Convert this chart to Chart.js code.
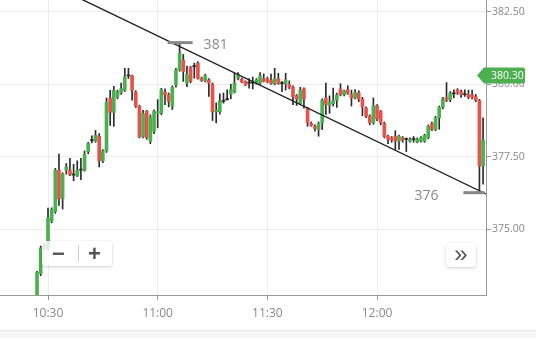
<!DOCTYPE html>
<html>
<head>
<meta charset="utf-8">
<script src="https://cdn.jsdelivr.net/npm/chart.js@4.4.1/dist/chart.umd.min.js"></script>
<style>
  html, body { margin: 0; padding: 0; background: #fff; }
  #wrap { position: relative; width: 536px; height: 338px; overflow: hidden; font-family: 'Open Sans', sans-serif; }
  #myChart { position: absolute; left: 0; top: 0; }
  .footer { position: absolute; left: 0; top: 330px; width: 536px; height: 8px; background: #f6f6f6; border-top: 1px solid #ebebeb; }
  .zoomBox { position: absolute; left: 42px; top: 241px; width: 70px; height: 25px; background: rgba(255,255,255,0.82); border-radius: 3px; box-shadow: 0 1px 3px rgba(0,0,0,0.2); }
  .zoomBox span { position: absolute; top: 0px; font: bold 22px 'Liberation Sans', sans-serif; color: #555; }
  .zoomBox .sep { position: absolute; left: 36px; top: 4px; width: 1px; height: 17px; background: #d0d0d0; }
  .moreBtn { position: absolute; left: 446px; top: 243px; width: 30px; height: 24px; background: #fff; border-radius: 3px; box-shadow: 0 1px 3px rgba(0,0,0,0.2); text-align: center; font: 24px/22px 'Liberation Sans', sans-serif; color: #555; }
</style>
</head>
<body>
<div id="wrap">
  <canvas id="myChart" width="536" height="330"></canvas>
  <div class="footer"></div>
  <div class="zoomBox"><span style="left:10px">−</span><div class="sep"></div><span style="left:46px">+</span></div>
  <div class="moreBtn">»</div>
</div>
<script>
// one candle per minute, first one at 10:27
const startMinute = 627;
const opens = [372.60, 373.47, 374.33, 374.36, 375.28, 375.61, 377.04, 376.07, 377.04, 377.04,
  376.87, 376.84, 377.04, 377.04, 377.68, 378.06, 378.04, 378.21, 377.36, 377.70,
  379.53, 379.03, 379.56, 379.70, 379.79, 380.29, 380.29, 379.73, 379.24, 378.19,
  379.07, 378.04, 378.38, 379.00, 379.01, 379.73, 379.64, 379.24, 379.98, 380.50,
  380.84, 380.04, 380.58, 380.61, 380.73, 380.21, 380.12, 380.15, 380.00, 379.05,
  379.05, 379.41, 379.47, 379.66, 379.73, 380.21, 380.18, 380.10, 380.04, 380.04,
  380.04, 380.04, 380.19, 380.19, 380.15, 380.02, 380.19, 380.02, 380.02, 380.00,
  379.90, 379.61, 379.33, 379.84, 379.18, 378.65, 378.55, 378.44, 378.67, 379.53,
  379.27, 379.33, 379.45, 379.84, 379.64, 379.81, 379.66, 379.53, 379.70, 379.49,
  379.18, 378.90, 378.67, 379.26, 379.07, 378.65, 378.21, 378.15, 378.21, 378.04,
  378.15, 378.10, 378.04, 378.10, 378.02, 378.04, 378.04, 378.16, 378.64, 378.44,
  378.84, 379.21, 379.53, 379.47, 379.67, 379.81, 379.74, 379.64, 379.64, 379.64,
  379.58, 379.44, 377.18];
const highs = [373.55, 374.42, 374.50, 375.73, 375.74, 377.10, 377.59, 376.95, 377.27, 377.45,
  377.24, 377.36, 377.45, 377.70, 378.00, 378.22, 378.41, 378.30, 377.75, 379.53,
  379.79, 379.93, 379.80, 380.04, 380.55, 380.55, 380.32, 379.78, 379.28, 379.10,
  379.10, 378.95, 379.12, 379.47, 379.86, 379.84, 379.70, 379.95, 380.55, 381.42,
  381.03, 380.63, 380.62, 380.73, 380.78, 380.25, 380.35, 380.20, 380.05, 379.36,
  379.67, 379.70, 379.81, 380.00, 380.38, 380.40, 380.22, 380.12, 380.20, 380.25,
  380.20, 380.40, 380.36, 380.25, 380.35, 380.55, 380.38, 380.10, 380.38, 380.12,
  379.95, 379.65, 379.90, 379.88, 379.20, 378.70, 378.60, 378.70, 379.50, 380.04,
  379.60, 379.87, 379.70, 380.02, 379.80, 379.95, 379.80, 379.82, 379.78, 379.55,
  379.22, 378.95, 379.53, 379.30, 379.10, 378.70, 378.25, 378.20, 378.40, 378.25,
  378.20, 378.15, 378.15, 378.20, 378.15, 378.20, 378.28, 378.60, 378.70, 378.90,
  379.25, 379.55, 380.06, 379.75, 379.81, 379.85, 379.80, 379.81, 379.80, 379.80,
  379.65, 379.48, 378.84];
const lows = [372.50, 373.40, 374.28, 374.30, 375.22, 375.55, 375.82, 375.70, 376.90, 376.85,
  376.67, 376.82, 376.71, 377.00, 377.60, 377.98, 378.00, 377.15, 377.30, 377.65,
  378.58, 378.55, 379.50, 379.65, 379.75, 380.20, 379.45, 379.20, 378.15, 378.15,
  378.10, 377.95, 378.30, 378.50, 378.95, 379.30, 379.22, 379.13, 379.90, 380.45,
  380.10, 379.92, 380.05, 380.21, 380.18, 380.10, 380.08, 379.58, 378.75, 378.67,
  378.97, 379.35, 379.45, 379.50, 379.70, 380.15, 380.05, 379.95, 379.87, 379.84,
  380.00, 380.00, 380.08, 380.05, 380.00, 379.98, 380.00, 379.75, 379.80, 379.85,
  379.30, 379.27, 379.30, 379.18, 378.55, 378.55, 378.38, 378.21, 378.44, 378.96,
  379.00, 379.25, 379.20, 379.60, 379.60, 379.65, 379.25, 379.50, 379.40, 378.92,
  378.85, 378.60, 378.62, 378.75, 378.60, 378.15, 377.95, 378.00, 377.75, 377.75,
  378.00, 377.68, 378.00, 378.00, 377.98, 378.00, 378.00, 378.12, 378.40, 378.40,
  378.45, 379.15, 379.40, 379.40, 379.53, 379.65, 379.55, 379.58, 379.50, 379.50,
  379.40, 376.28, 376.56];
const closes = [373.51, 374.36, 374.40, 375.38, 375.68, 377.04, 376.05, 376.90, 377.15, 376.88,
  376.87, 377.04, 377.04, 377.59, 377.96, 378.06, 378.24, 377.36, 377.70, 379.38,
  379.03, 379.79, 379.72, 379.85, 380.25, 380.29, 379.79, 379.24, 378.19, 378.99,
  378.16, 378.88, 379.07, 379.05, 379.81, 379.64, 379.41, 379.90, 380.50, 381.07,
  380.44, 380.35, 380.10, 380.61, 380.21, 380.13, 380.30, 380.04, 379.05, 379.10,
  379.43, 379.41, 379.47, 379.81, 380.04, 380.33, 380.08, 379.98, 380.04, 380.04,
  380.15, 380.29, 380.10, 380.10, 380.02, 380.19, 380.02, 380.02, 380.15, 379.90,
  379.58, 379.49, 379.81, 379.49, 378.67, 378.58, 378.47, 378.65, 379.45, 379.30,
  379.38, 379.45, 379.64, 379.64, 379.77, 379.70, 379.53, 379.72, 379.49, 379.22,
  378.90, 378.67, 379.26, 378.81, 378.67, 378.19, 378.10, 378.08, 378.04, 378.21,
  378.08, 378.10, 378.10, 378.10, 378.10, 378.16, 378.24, 378.55, 378.44, 378.84,
  379.21, 379.50, 379.45, 379.70, 379.67, 379.72, 379.64, 379.64, 379.56, 379.56,
  379.45, 377.18, 378.08];

const xTicks = [630, 660, 690, 720];
const yTicks = [375, 377.5, 380, 382.5];
const lastPrice = 380.30;

// candles carrying the high / low markers
const highMarkIdx = 39;
const lowMarkIdx = 121;

// trend line drawn between two points (minute, price)
const trendX = [630, 749.8];
const trendY = [383.49, 376.22];

const green = '#4caf50';
const red = '#e5534b';
const wickColor = '#2b2b2b';

const times = opens.map((v, i) => startMinute + i);

function candleColor(i) {
    if (closes[i] > opens[i]) return green;
    if (closes[i] < opens[i]) return red;
    return wickColor;
}

function fmtTime(v) {
    const h = Math.floor(v / 60);
    const m = v % 60;
    return h + ':' + (m < 10 ? '0' : '') + m;
}

const markerPlugin = {
    id: 'markers',
    afterDatasetsDraw(chart) {
        const c = chart.ctx;
        const x = chart.scales.x;
        const y = chart.scales.y;
        const hiVal = highs[highMarkIdx];
        const loVal = lows[lowMarkIdx];
        const hiX = x.getPixelForValue(times[highMarkIdx]);
        const loX = x.getPixelForValue(times[lowMarkIdx]);
        const hiY = y.getPixelForValue(hiVal);
        const loY = y.getPixelForValue(loVal);
        c.save();
        c.fillStyle = '#888';
        c.fillRect(hiX - 12, hiY - 2, 25, 3);
        c.fillRect(loX - 16, loY - 1, 21, 3);
        c.font = '14px "Open Sans"';
        c.textBaseline = 'middle';
        c.textAlign = 'left';
        c.fillText(Math.round(hiVal), hiX + 24, hiY + 2);
        c.textAlign = 'right';
        c.fillText(Math.round(loVal), loX - 41, loY + 4);
        c.restore();
    },
    afterDraw(chart) {
        const c = chart.ctx;
        const py = chart.scales.y.getPixelForValue(lastPrice);
        const left = chart.chartArea.right - 9;
        c.save();
        c.fillStyle = green;
        c.beginPath();
        c.moveTo(left, py);
        c.lineTo(left + 7, py - 8);
        c.lineTo(523, py - 8);
        c.quadraticCurveTo(525, py - 8, 525, py - 6);
        c.lineTo(525, py + 6);
        c.quadraticCurveTo(525, py + 8, 523, py + 8);
        c.lineTo(left + 7, py + 8);
        c.closePath();
        c.fill();
        c.fillStyle = '#fff';
        c.font = '10.5px "Open Sans"';
        c.textBaseline = 'middle';
        c.textAlign = 'left';
        c.fillText(lastPrice.toFixed(2), 491, py + 0.5);
        c.restore();
    }
};

const ctx = document.getElementById('myChart');

new Chart(ctx, {
    type: 'bar',
    data: {
        datasets: [{
            label: 'body',
            data: times.map((t, i) => ({ x: t, y: [opens[i], closes[i]] })),
            backgroundColor: (c) => candleColor(c.dataIndex),
            barThickness: 3,
            minBarLength: 1,
            grouped: false,
            order: 1
        }, {
            label: 'wick',
            data: times.map((t, i) => ({ x: t, y: [lows[i], highs[i]] })),
            backgroundColor: wickColor,
            barThickness: 1,
            grouped: false,
            order: 2
        }, {
            type: 'line',
            label: 'trend',
            data: trendX.map((t, i) => ({ x: t, y: trendY[i] })),
            borderColor: '#222',
            borderWidth: 1.4,
            pointRadius: 0,
            order: 0
        }]
    },
    options: {
        responsive: false,
        animation: false,
        layout: { autoPadding: false, padding: 0 },
        plugins: {
            legend: { display: false },
            tooltip: { enabled: false }
        },
        scales: {
            x: {
                type: 'linear',
                offset: false,
                min: 616.87,
                max: 749.8,
                afterBuildTicks: (axis) => { axis.ticks = xTicks.map(v => ({ value: v })); },
                afterFit: (axis) => {
                    axis.height = 35;
                    axis.paddingLeft = 0;
                    axis.paddingRight = 0;
                },
                grid: { color: '#ececec', tickColor: '#999', tickLength: 5, offset: false },
                border: { color: '#999' },
                ticks: {
                    color: '#888',
                    font: { family: 'Open Sans', size: 12 },
                    padding: 6,
                    maxRotation: 0,
                    callback: (v) => fmtTime(v)
                }
            },
            y: {
                type: 'linear',
                position: 'right',
                min: 372.734,
                max: 382.907,
                afterBuildTicks: (axis) => { axis.ticks = yTicks.map(v => ({ value: v })); },
                afterFit: (axis) => {
                    axis.width = 50;
                    axis.paddingTop = 0;
                    axis.paddingBottom = 0;
                },
                grid: { color: '#ececec', tickColor: '#999', tickLength: 5 },
                border: { color: '#999' },
                ticks: {
                    color: '#888',
                    font: { family: 'Open Sans', size: 10.5 },
                    padding: 1,
                    callback: (v) => v.toFixed(2)
                }
            }
        }
    },
    plugins: [markerPlugin]
});
</script>
</body>
</html>
